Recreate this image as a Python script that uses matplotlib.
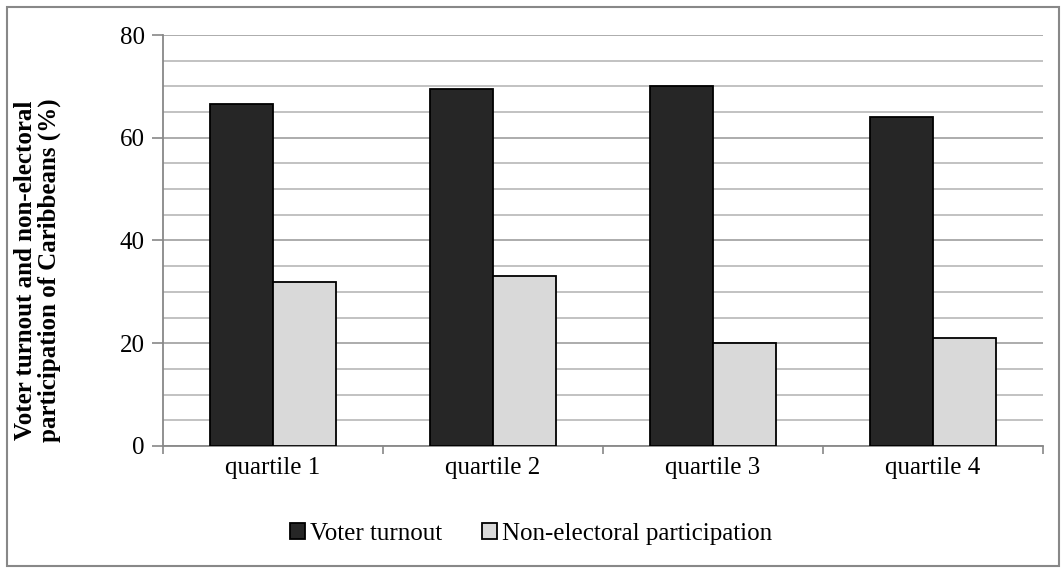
import numpy as np
from matplotlib import pyplot as plt
from matplotlib.patches import Rectangle

categories = ["quartile 1", "quartile 2", "quartile 3", "quartile 4"]
voter_turnout = [66.5, 69.5, 70.0, 64.0]
non_electoral = [32.0, 33.0, 20.0, 21.0]
series_names = ["Voter turnout", "Non-electoral participation"]
y_label = "Voter turnout and non-electoral\nparticipation of Caribbeans (%)"


def main():
    plt.rcParams['font.family'] = ['Liberation Serif', 'DejaVu Serif']
    fig = plt.figure(figsize=(10.64, 5.72), dpi=100)
    ax = fig.add_axes([0.1532, 0.2203, 0.8271, 0.7185])

    x = np.arange(len(categories))
    w = 0.286
    ax.bar(x - w / 2, voter_turnout, w, color="#262626", edgecolor="black",
           linewidth=1.3, label=series_names[0], zorder=3)
    ax.bar(x + w / 2, non_electoral, w, color="#d9d9d9", edgecolor="black",
           linewidth=1.3, label=series_names[1], zorder=3)

    ax.set_xlim(-0.5, len(categories) - 0.5)
    ax.set_ylim(0, 80)
    ax.set_yticks([0, 20, 40, 60, 80])
    ax.set_yticks(np.arange(0, 81, 5), minor=True)
    ax.grid(axis="y", which="minor", color="#bdbdbd", linewidth=1.3, zorder=0)
    ax.grid(axis="y", which="major", color="#a6a6a6", linewidth=1.3, zorder=0)
    ax.tick_params(axis="y", which="minor", length=0)
    ax.tick_params(axis="y", which="major", length=8, width=1.2, color="#888888",
                   labelsize=18, pad=5)

    ax.set_xticks(x)
    ax.set_xticklabels(categories, fontsize=18)
    ax.set_xticks(np.arange(-0.5, len(categories)), minor=True)
    ax.tick_params(axis="x", which="major", length=0, pad=8)
    ax.tick_params(axis="x", which="minor", length=6, width=1.2, color="#888888")

    for side in ["top", "right"]:
        ax.spines[side].set_visible(False)
    for side in ["left", "bottom"]:
        ax.spines[side].set_color("#888888")
        ax.spines[side].set_linewidth(1.3)

    # подпись оси Y смещена вниз, как в оригинале
    fig.text(0.035, 0.528, y_label, rotation=90, ha="center", va="center",
             fontsize=18, fontweight="bold", linespacing=1.05, multialignment="center")

    fig.legend(loc="center", bbox_to_anchor=(0.499, 0.067), ncol=2, frameon=False,
               fontsize=18, handlelength=0.6, handleheight=0.6, handletextpad=0.2,
               columnspacing=1.6)

    fig.patches.append(Rectangle((0.007, 0.01), 0.988, 0.978, transform=fig.transFigure,
                                 fill=False, edgecolor="#888888", linewidth=1.5))

    fig.savefig("out.png", dpi=100)


if __name__ == "__main__":
    main()
